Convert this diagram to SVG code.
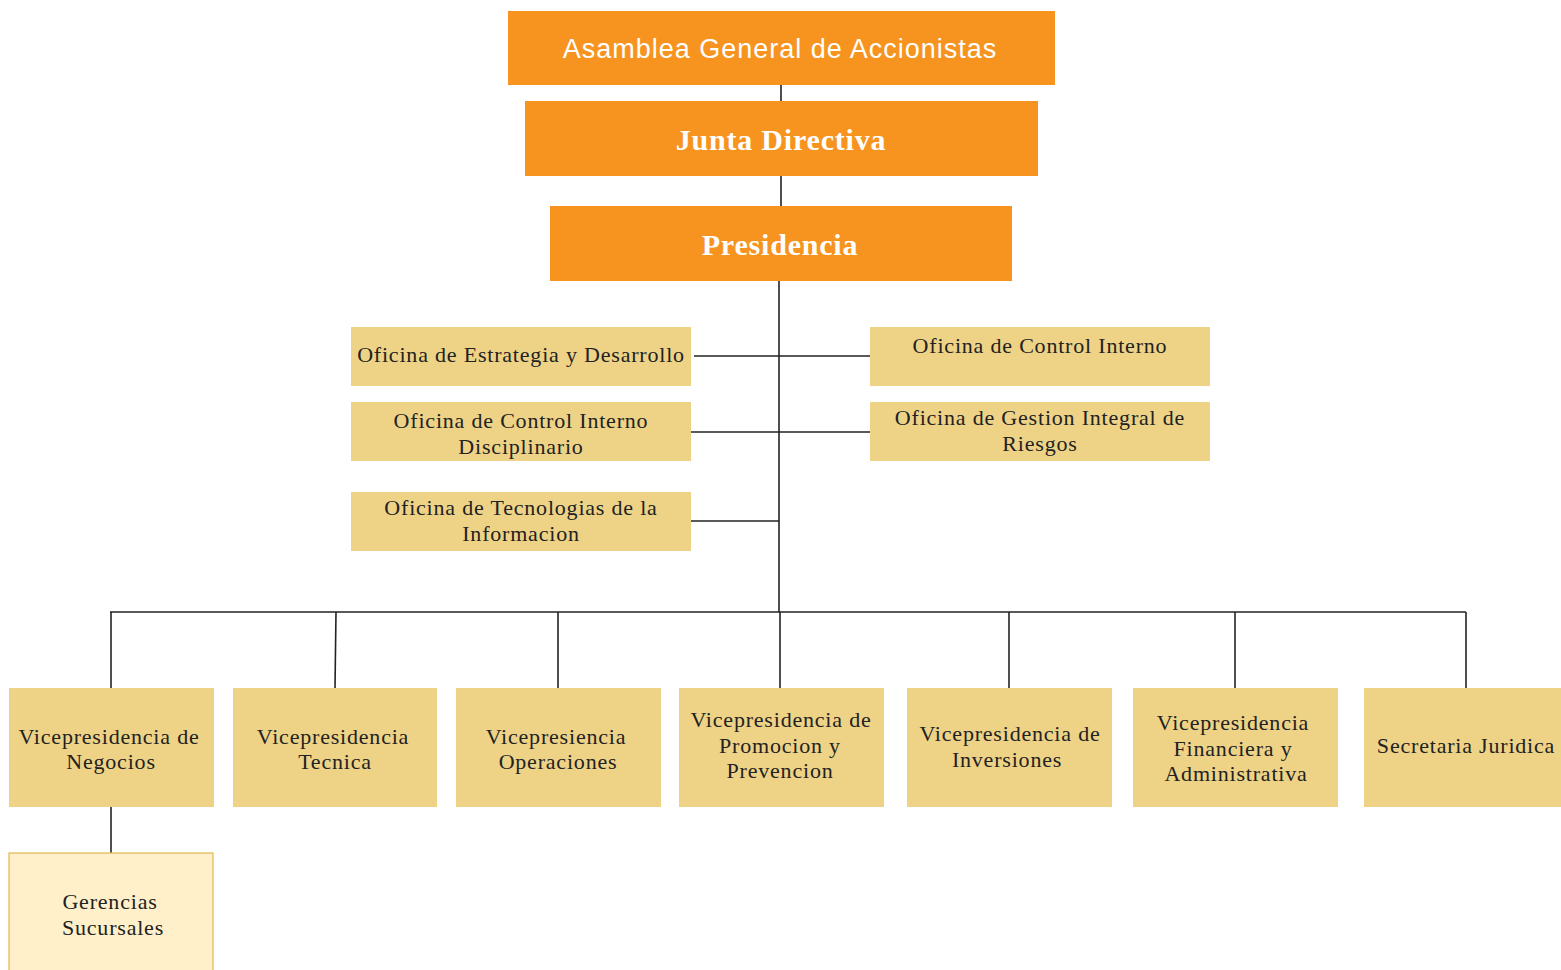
<svg xmlns="http://www.w3.org/2000/svg" width="1561" height="970" viewBox="0 0 1561 970">
  <style>
    .top { fill: #F7941F; }
    .unit { fill: #EED387; }
    .sub { fill: #FFF0C9; stroke: #E3B64E; stroke-width: 1.2; }
    .t { font-family: "Liberation Serif", "Times New Roman", serif; font-size: 22px; letter-spacing: 0.8px; fill: #222; text-anchor: middle; }
    .h { font-family: "Liberation Serif", "Times New Roman", serif; font-size: 30px; letter-spacing: 0.8px; font-weight: bold; fill: #fff; text-anchor: middle; }
    .hs { font-family: "Liberation Sans", Arial, sans-serif; font-size: 27px; letter-spacing: 1px; fill: #fff; text-anchor: middle; }
    .link { stroke: #222; stroke-width: 1.6; fill: none; }
  </style>
  <rect width="1561" height="970" fill="#fff"/>

  <!-- connectors -->
  <g id="connectors" class="link">
    <line x1="781" y1="85" x2="781" y2="101"/>
    <line x1="781" y1="176" x2="781" y2="206"/>
    <line x1="779" y1="281" x2="779" y2="612"/>
    <line x1="694" y1="356" x2="870" y2="356"/>
    <line x1="691" y1="432" x2="870" y2="432"/>
    <line x1="691" y1="521" x2="779" y2="521"/>
    <line x1="110" y1="612" x2="1466" y2="612"/>
    <line x1="111" y1="612" x2="111" y2="688"/>
    <line x1="336" y1="612" x2="335" y2="688"/>
    <line x1="558" y1="612" x2="558" y2="688"/>
    <line x1="780" y1="612" x2="780" y2="688"/>
    <line x1="1009" y1="612" x2="1009" y2="688"/>
    <line x1="1235" y1="612" x2="1235" y2="688"/>
    <line x1="1466" y1="612" x2="1466" y2="688"/>
    <line x1="111" y1="807" x2="111" y2="853"/>
  </g>

  <!-- governing bodies -->
  <g id="asamblea">
    <rect class="top" x="508" y="11" width="547" height="74"/>
    <text class="hs" x="780" y="58">Asamblea General de Accionistas</text>
  </g>
  <g id="junta">
    <rect class="top" x="525" y="101" width="513" height="75"/>
    <text class="h" x="781" y="150">Junta Directiva</text>
  </g>
  <g id="presidencia">
    <rect class="top" x="550" y="206" width="462" height="75"/>
    <text class="h" x="780" y="255">Presidencia</text>
  </g>

  <!-- staff offices -->
  <g id="estrategia">
    <rect class="unit" x="351" y="327" width="340" height="59"/>
    <text class="t" x="521" y="362">Oficina de Estrategia y Desarrollo</text>
  </g>
  <g id="control-disciplinario">
    <rect class="unit" x="351" y="402" width="340" height="59"/>
    <text class="t" x="521" y="428">Oficina de Control Interno</text>
    <text class="t" x="521" y="454">Disciplinario</text>
  </g>
  <g id="tecnologias">
    <rect class="unit" x="351" y="492" width="340" height="59"/>
    <text class="t" x="521" y="515">Oficina de Tecnologias de la</text>
    <text class="t" x="521" y="541">Informacion</text>
  </g>
  <g id="control-interno">
    <rect class="unit" x="870" y="327" width="340" height="59"/>
    <text class="t" x="1040" y="353">Oficina de Control Interno</text>
  </g>
  <g id="riesgos">
    <rect class="unit" x="870" y="402" width="340" height="59"/>
    <text class="t" x="1040" y="425">Oficina de Gestion Integral de</text>
    <text class="t" x="1040" y="451">Riesgos</text>
  </g>

  <!-- vice presidencies -->
  <g id="vp-negocios">
    <rect class="unit" x="9" y="688" width="205" height="119"/>
    <text class="t" x="109" y="744">Vicepresidencia de</text>
    <text class="t" x="111" y="769">Negocios</text>
  </g>
  <g id="vp-tecnica">
    <rect class="unit" x="233" y="688" width="204" height="119"/>
    <text class="t" x="333" y="744">Vicepresidencia</text>
    <text class="t" x="335" y="769">Tecnica</text>
  </g>
  <g id="vp-operaciones">
    <rect class="unit" x="456" y="688" width="205" height="119"/>
    <text class="t" x="556" y="744">Vicepresiencia</text>
    <text class="t" x="558" y="769">Operaciones</text>
  </g>
  <g id="vp-promocion">
    <rect class="unit" x="679" y="688" width="205" height="119"/>
    <text class="t" x="781" y="727">Vicepresidencia de</text>
    <text class="t" x="780" y="753">Promocion y</text>
    <text class="t" x="780" y="778">Prevencion</text>
  </g>
  <g id="vp-inversiones">
    <rect class="unit" x="907" y="688" width="205" height="119"/>
    <text class="t" x="1010" y="741">Vicepresidencia de</text>
    <text class="t" x="1007" y="767">Inversiones</text>
  </g>
  <g id="vp-financiera">
    <rect class="unit" x="1133" y="688" width="205" height="119"/>
    <text class="t" x="1233" y="730">Vicepresidencia</text>
    <text class="t" x="1233" y="756">Financiera y</text>
    <text class="t" x="1236" y="781">Administrativa</text>
  </g>
  <g id="secretaria">
    <rect class="unit" x="1364" y="688" width="197" height="119"/>
    <text class="t" x="1466" y="753">Secretaria Juridica</text>
  </g>

  <!-- branch level -->
  <g id="sucursales">
    <rect class="sub" x="9" y="853" width="204" height="125"/>
    <text class="t" x="110" y="909">Gerencias</text>
    <text class="t" x="113" y="935">Sucursales</text>
  </g>
</svg>
